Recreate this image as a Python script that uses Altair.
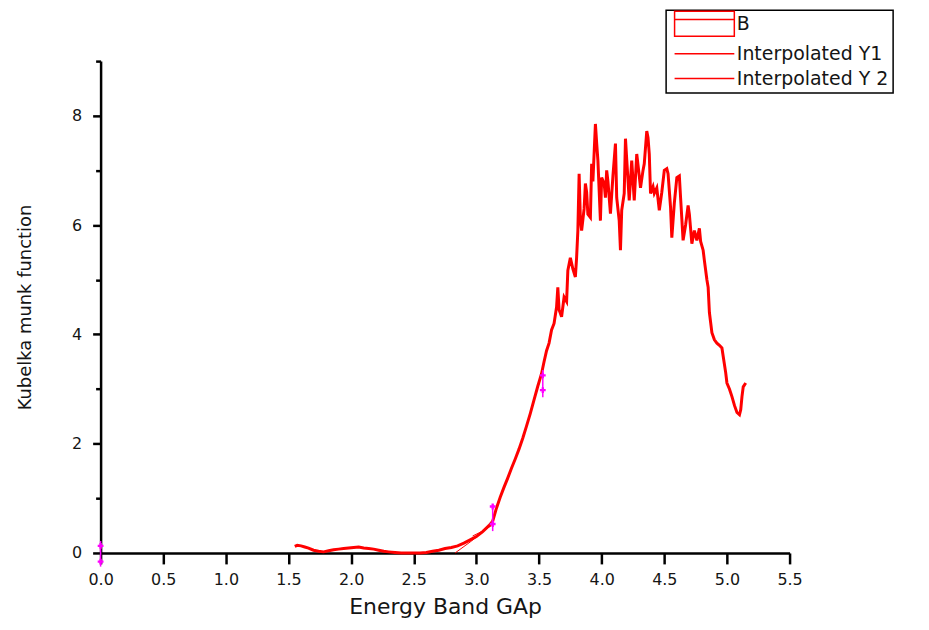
import altair as alt
import pandas as pd

# ---- main curve "B" ----
b_x = [1.55, 1.57, 1.60, 1.63, 1.66, 1.70, 1.74, 1.78, 1.82, 1.86, 1.90, 1.94, 1.98,
       2.02, 2.06, 2.10, 2.14, 2.18, 2.22, 2.26, 2.30, 2.35, 2.40, 2.45, 2.50, 2.55,
       2.60, 2.65, 2.70, 2.75, 2.80, 2.85, 2.90, 2.95, 3.00, 3.05, 3.10, 3.13, 3.16,
       3.19, 3.22, 3.25, 3.28, 3.31, 3.34, 3.37, 3.40, 3.43, 3.46, 3.49, 3.52, 3.54,
       3.56, 3.58, 3.60, 3.62, 3.64, 3.65, 3.66, 3.68, 3.70, 3.72, 3.73, 3.75, 3.77,
       3.79, 3.80, 3.81, 3.82, 3.83, 3.84, 3.86, 3.87, 3.88, 3.89, 3.91, 3.92, 3.93,
       3.95, 3.96, 3.97, 3.99, 4.00, 4.02, 4.03, 4.04, 4.05, 4.07, 4.09, 4.11, 4.12,
       4.14, 4.15, 4.16, 4.18, 4.19, 4.20, 4.22, 4.24, 4.26, 4.28, 4.30, 4.31, 4.33,
       4.34, 4.36, 4.37, 4.38, 4.39, 4.41, 4.42, 4.44, 4.46, 4.48, 4.50, 4.52, 4.53,
       4.55, 4.56, 4.58, 4.60, 4.62, 4.63, 4.65, 4.67, 4.69, 4.70, 4.72, 4.74, 4.76,
       4.78, 4.79, 4.81, 4.82, 4.84, 4.85, 4.86, 4.88, 4.90, 4.92, 4.94, 4.96, 4.97,
       4.99, 5.00, 5.02, 5.04, 5.06, 5.08, 5.10, 5.11, 5.12, 5.13, 5.15]
b_y = [0.12, 0.14, 0.13, 0.11, 0.09, 0.05, 0.03, 0.02, 0.04, 0.06, 0.07, 0.08, 0.09,
       0.10, 0.11, 0.09, 0.08, 0.07, 0.05, 0.03, 0.02, 0.01, 0.00, 0.00, 0.00, 0.00,
       0.01, 0.03, 0.05, 0.08, 0.10, 0.13, 0.18, 0.24, 0.30, 0.39, 0.50, 0.58, 0.82,
       1.02, 1.20, 1.37, 1.55, 1.72, 1.90, 2.10, 2.32, 2.55, 2.80, 3.05, 3.28, 3.50,
       3.70, 3.84, 4.08, 4.20, 4.50, 4.86, 4.45, 4.32, 4.68, 4.60, 5.17, 5.40, 5.20,
       5.05, 5.41, 5.90, 6.94, 6.10, 5.90, 6.30, 6.76, 6.60, 6.20, 6.14, 7.12, 6.80,
       7.85, 7.50, 7.18, 6.08, 6.87, 6.76, 6.50, 7.00, 6.80, 6.21, 6.90, 7.49, 6.50,
       6.08, 5.54, 6.27, 6.58, 7.58, 7.20, 6.45, 7.18, 6.45, 7.30, 6.90, 6.68, 7.00,
       7.12, 7.72, 7.60, 7.30, 6.58, 6.70, 6.58, 6.68, 6.27, 6.60, 7.00, 7.03, 6.94,
       6.32, 5.77, 6.40, 6.87, 6.90, 6.50, 5.72, 6.00, 6.36, 6.20, 5.66, 5.90, 5.72,
       5.94, 5.70, 5.54, 5.35, 5.00, 4.86, 4.40, 4.03, 3.90, 3.84, 3.80, 3.75, 3.60,
       3.30, 3.11, 3.00, 2.86, 2.70, 2.57, 2.53, 2.62, 2.86, 3.04, 3.11]

# ---- thin interpolated segments ----
y1_x = [2.83, 2.95, 3.05, 3.13]
y1_y = [0.00, 0.20, 0.38, 0.55]
y2_x = [2.97, 3.05, 3.12]
y2_y = [0.31, 0.40, 0.50]

series_names = ["B", "Interpolated Y1", "Interpolated Y 2"]

# ---- magenta data-reader markers ----
mk_x = [0.00, 3.13, 3.53]
mk_lo = [-0.25, 0.40, 2.85]
mk_hi = [0.22, 0.89, 3.35]
cr_x = [0.00, 0.00, 3.13, 3.13, 3.53, 3.53]
cr_y = [0.13, -0.16, 0.53, 0.85, 2.98, 3.25]

x_ticks = [i * 0.25 for i in range(23)]
y_ticks = list(range(10))

df_b = pd.DataFrame({"x": b_x, "y": b_y, "series": "B", "order": range(len(b_x))})
df_i = pd.concat([
    pd.DataFrame({"x": y1_x, "y": y1_y, "series": series_names[1], "order": range(len(y1_x))}),
    pd.DataFrame({"x": y2_x, "y": y2_y, "series": series_names[2], "order": range(len(y2_x))}),
])
df_mk = pd.DataFrame({"x": mk_x, "lo": mk_lo, "hi": mk_hi})
df_cr = pd.DataFrame({"x": cr_x, "y": cr_y})
# legend-only rows (no position, so nothing is drawn)
df_leg = pd.DataFrame({"series": series_names, "x": [None] * 3, "y": [None] * 3})

FONT = "DejaVu Sans"
TXT = "#151515"
RED = "#ff0000"

x_scale = alt.Scale(domain=[0, 5.5], nice=False, zero=False)
y_scale = alt.Scale(domain=[0, 9], nice=False, zero=False)

x_axis = alt.Axis(
    values=x_ticks,
    labelExpr="datum.value % 0.5 === 0 ? format(datum.value, '.1f') : ''",
    tickSize={"condition": {"test": "datum.value % 0.5 === 0", "value": 11}, "value": 8},
    labelPadding=8,
    labelFlush=False,
    title="Energy Band GAp",
    titlePadding=9,
    titleFontSize=22,
)
y_axis = alt.Axis(
    values=y_ticks,
    labelExpr="datum.value % 2 === 0 ? format(datum.value, 'd') : ''",
    tickSize={"condition": {"test": "datum.value % 2 === 0", "value": 8}, "value": 5},
    labelPadding=11,
    labelFlush=False,
    title="Kubelka munk function",
    titlePadding=37,
    titleFontSize=18,
)

B_PATH = "M-6,-2.5H6V2.5H-6Z M-6,-0.85H6"
LINE_PATH = "M-6,0H6"

legend = alt.Legend(
    title=None,
    orient="none",
    legendX=568,
    legendY=-51,
    strokeColor="black",
    padding=4,
    labelFont=FONT,
    labelFontSize=19,
    labelColor=TXT,
    symbolOffset=25,
    labelOffset=23,
    rowPadding=5,
    symbolStrokeWidth=1.5,
)

x_enc = alt.X("x:Q", scale=x_scale, axis=x_axis)
y_enc = alt.Y("y:Q", scale=y_scale, axis=y_axis)

line_b = alt.Chart(df_b).mark_line(strokeWidth=3, color=RED).encode(
    x=x_enc, y=y_enc, order="order:Q"
)
line_i = alt.Chart(df_i).mark_line(strokeWidth=1, color=RED).encode(
    x=alt.X("x:Q"), y=alt.Y("y:Q"), detail="series:N", order="order:Q"
)
rules = alt.Chart(df_mk).mark_rule(color="#ff00ff", strokeWidth=1.5).encode(
    x="x:Q", y="lo:Q", y2="hi:Q"
)
crosses = alt.Chart(df_cr).mark_point(shape="cross", filled=True, color="#ff00ff", size=34, opacity=1).encode(
    x="x:Q", y="y:Q"
)
legend_layer = alt.Chart(df_leg).mark_point(filled=False, size=100, strokeWidth=1.5, opacity=1).encode(
    x="x:Q",
    y="y:Q",
    color=alt.Color("series:N", scale=alt.Scale(domain=series_names, range=[RED] * 3), legend=legend),
    shape=alt.Shape("series:N", scale=alt.Scale(domain=series_names, range=[B_PATH, LINE_PATH, LINE_PATH]), legend=legend),
)

chart = alt.layer(line_b, line_i, rules, crosses, legend_layer).properties(
    width=692,
    height=494,
    autosize=alt.AutoSizeParams(type="none"),
    padding={"left": 93, "top": 52, "right": 132, "bottom": 67},
    background="white",
).configure_view(stroke=None).configure_axis(
    grid=False,
    domainColor="black",
    domainWidth=2.5,
    tickColor="black",
    tickWidth=2.5,
    labelFont=FONT,
    labelFontSize=16,
    labelColor=TXT,
    titleFont=FONT,
    titleFontWeight="normal",
    titleColor=TXT,
).configure_legend(strokeWidth=1.5)

chart.save("out.html", embed_options={"renderer": "svg", "actions": False})
